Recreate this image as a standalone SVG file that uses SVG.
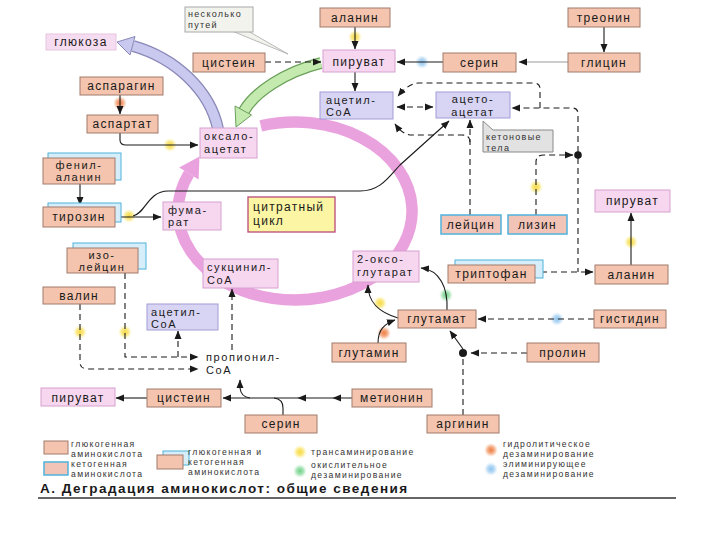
<svg xmlns="http://www.w3.org/2000/svg" width="720" height="540" viewBox="0 0 720 540">
<defs>
<style>
.g{fill:#f4c4ae;stroke:#a07a6c;stroke-width:1}
.p{fill:#f6d7ef;stroke:#d6a0cf;stroke-width:1}
.l{fill:#d8d5f4;stroke:#a29cd6;stroke-width:1}
.k{fill:#f2c4b8;stroke:#4fb2dc;stroke-width:1.5}
.sh{fill:#d6eef9;stroke:#4fb2dc;stroke-width:1}
text{font-family:"Liberation Sans",Arial,sans-serif;fill:#1a1a1a}
.t{font-size:12px;letter-spacing:1.3px}
.t2{font-size:11px;letter-spacing:1.6px}
.c{text-anchor:middle}
.s{font-size:9px;letter-spacing:1.3px;fill:#333}
.lg{font-size:8.6px;letter-spacing:1.35px;fill:#333}
.ln{fill:none;stroke:#1a1a1a;stroke-width:1.1}
.d{stroke-dasharray:6 4}
.ae{marker-end:url(#a)}
</style>
<marker id="a" markerWidth="9" markerHeight="8" refX="8" refY="4" orient="auto" markerUnits="userSpaceOnUse"><path d="M0,0.5 L8.5,4 L0,7.5 Z" fill="#1a1a1a"/></marker>
<marker id="as" markerWidth="9" markerHeight="8" refX="8" refY="4" orient="auto-start-reverse" markerUnits="userSpaceOnUse"><path d="M0,0.5 L8.5,4 L0,7.5 Z" fill="#1a1a1a"/></marker>
<radialGradient id="gy"><stop offset="0" stop-color="#f6d840"/><stop offset="0.5" stop-color="#f8e46a" stop-opacity="0.8"/><stop offset="1" stop-color="#fff3a0" stop-opacity="0"/></radialGradient>
<radialGradient id="gb"><stop offset="0" stop-color="#8cc2ee"/><stop offset="0.5" stop-color="#a8d2f2" stop-opacity="0.8"/><stop offset="1" stop-color="#d0e8fa" stop-opacity="0"/></radialGradient>
<radialGradient id="go"><stop offset="0" stop-color="#ee7a40"/><stop offset="0.5" stop-color="#f29a6a" stop-opacity="0.8"/><stop offset="1" stop-color="#f8c0a0" stop-opacity="0"/></radialGradient>
<radialGradient id="gg"><stop offset="0" stop-color="#6ccf84"/><stop offset="0.5" stop-color="#92dca4" stop-opacity="0.8"/><stop offset="1" stop-color="#c0ecc8" stop-opacity="0"/></radialGradient>
</defs>
<rect width="720" height="540" fill="#ffffff"/>

<g id="cycle">
<path d="M260.8,125.9 A117 89 0 1 1 189,173.4" fill="none" stroke="#e9a2dd" stroke-width="11.5"/>
<polygon points="199.5,156.4 198.6,179.6 179.2,167.5" fill="#e9a2dd"/>
</g>

<g id="bigarrows">
<path d="M218,129 C210,90 175,58 133,46" fill="none" stroke="#8a88b8" stroke-width="12"/>
<path d="M218,129 C210,90 175,58 133,46" fill="none" stroke="#c9c8ee" stroke-width="9.5"/>
<polygon points="117,42 135,36.5 130,55" fill="#c9c8ee" stroke="#8a88b8" stroke-width="1"/>
<path d="M321,63 C285,72 255,92 244,111" fill="none" stroke="#6aa05a" stroke-width="12"/>
<path d="M321,63 C285,72 255,92 244,111" fill="none" stroke="#c5eab0" stroke-width="9.5"/>
<polygon points="236,127 251.5,115 235,106" fill="#c5eab0" stroke="#6aa05a" stroke-width="1"/>
</g>

<g id="marks">
<circle cx="355" cy="37" r="7" fill="url(#gy)"/>
<circle cx="170" cy="145" r="7" fill="url(#gy)"/>
<circle cx="129" cy="216" r="7" fill="url(#gy)"/>
<circle cx="536" cy="187" r="7" fill="url(#gy)"/>
<circle cx="631" cy="242" r="7" fill="url(#gy)"/>
<circle cx="80" cy="332" r="7" fill="url(#gy)"/>
<circle cx="125" cy="332" r="7" fill="url(#gy)"/>
<circle cx="380" cy="303" r="7" fill="url(#gy)"/>
<circle cx="422" cy="62" r="7" fill="url(#gb)"/>
<circle cx="557" cy="319" r="7" fill="url(#gb)"/>
<circle cx="120" cy="103" r="7" fill="url(#go)"/>
<circle cx="384" cy="333" r="7" fill="url(#go)"/>
<circle cx="446" cy="295" r="7" fill="url(#gg)"/>
</g>

<g id="connectors">
<path class="ln d ae" d="M265,62 H321"/>
<path class="ln ae" d="M355,27 V49"/>
<path class="ln ae" d="M443,62 H397"/>
<path class="ln ae" d="M568,62 H519" style="stroke:#9a9a9a"/>
<path class="ln ae" d="M604,27 V52"/>
<path class="ln ae" d="M355,72 V91"/>
<path class="ln d" d="M397,107 H433" style="marker-start:url(#as);marker-end:url(#a)"/>
<path class="ln d ae" d="M540,108 V89 Q540,83 534,83 H418 Q408,84 398,96"/>
<path class="ln d ae" d="M578,152 V114 Q578,108 572,108 H512"/>
<path class="ln d ae" d="M470,215 V120"/>
<path class="ln d ae" d="M470,142 Q470,135 462,135 H410 Q402,134 395,124"/>
<path class="ln d ae" d="M536,215 V162 Q536,155 544,155 H573"/>
<path class="ln d" d="M578,158 V272"/>
<path class="ln d ae" d="M541,272 H593"/>
<path class="ln ae" d="M631,265 V213"/>
<path class="ln ae" d="M80,184 V205"/>
<path class="ln ae" d="M116,217 H161"/>
<path class="ln ae" d="M133,216 C145,214 148,191 168,191 H360 C380,191 388,178 400,165 L449,121"/>
<path class="ln ae" d="M120,95 V114"/>
<path class="ln ae" d="M120,133 V140 Q120,145 126,145 H198"/>
<path class="ln d ae" d="M125,273 V357 H198"/>
<path class="ln d ae" d="M178,357 V331"/>
<path class="ln d ae" d="M80,304 V362 Q80,369 88,369 H198"/>
<path class="ln d ae" d="M232,350 V289"/>
<path class="ln ae" d="M352,398 L333,398 L298,398 L223,398" style="marker-mid:url(#a)"/>
<path class="ln" d="M283,415 V408 Q283,399 274,398"/>
<path class="ln ae" d="M250,398 Q241,397 240,388 V380"/>
<path class="ln ae" d="M147,398 H116"/>
<path class="ln ae" d="M447,310 C448,288 440,270 421,268"/>
<path class="ln ae" d="M398,318 C378,312 368,302 368,285"/>
<path class="ln ae" d="M378,343 C378,330 384,324 395,320"/>
<path class="ln d ae" d="M594,319 H478"/>
<path class="ln d ae" d="M527,353 H471"/>
<path class="ln d" d="M463,415 V356"/>
<path class="ln ae" d="M463,349 L450,331"/>
<circle cx="578" cy="155" r="3.8" fill="#1a1a1a"/>
<circle cx="463" cy="353" r="4" fill="#1a1a1a"/>
</g>

<g id="n-neskolko">
<polygon points="232,31 248,31 288,54" fill="#f3f3ee" stroke="#a8a8a8" stroke-width="0.8"/>
<rect x="185" y="7" width="68" height="25" fill="#f3f3ee" stroke="#a8a8a8"/>
<text class="s" x="188" y="17">несколько</text>
<text class="s" x="188" y="28">путей</text>
</g>
<g id="n-glukoza"><rect x="46" y="34" width="70" height="16" fill="#f6dcf0" stroke="#e8c4e2"/><text class="t c" x="81" y="46">глюкоза</text></g>
<g id="n-alanin1"><rect class="g" x="320" y="8" width="70" height="19"/><text class="t c" x="355" y="21.5">аланин</text></g>
<g id="n-cistein1"><rect class="g" x="193" y="53" width="72" height="19"/><text class="t c" x="229" y="66.5">цистеин</text></g>
<g id="n-piruvat1"><rect class="p" x="323" y="50" width="72" height="22"/><text class="t c" x="359" y="65.5">пируват</text></g>
<g id="n-serin1"><rect class="g" x="443" y="53" width="73" height="19"/><text class="t c" x="479.5" y="66.5">серин</text></g>
<g id="n-treonin"><rect class="g" x="568" y="8" width="72" height="19"/><text class="t c" x="604" y="21.5">треонин</text></g>
<g id="n-glicin"><rect class="g" x="568" y="53" width="72" height="19"/><text class="t c" x="604" y="66.5">глицин</text></g>
<g id="n-acetylcoa1"><rect class="l" x="320" y="92" width="73" height="27"/><text class="t2" x="326" y="103.5">ацетил-</text><text class="t2" x="326" y="116">CoA</text></g>
<g id="n-acetoacetat"><rect class="l" x="436" y="92" width="74" height="26"/><text class="t2 c" x="473" y="103">ацето-</text><text class="t2 c" x="473" y="115.5">ацетат</text></g>
<g id="n-ketonovye">
<polygon points="483,121 493,130 553,130 553,152 483,152" fill="#e2e2e2" stroke="#8a8a8a"/>
<text class="s" x="486" y="140">кетоновые</text>
<text class="s" x="486" y="150.5">тела</text>
</g>
<g id="n-asparagin"><rect class="g" x="80" y="77" width="83" height="18"/><text class="t c" x="121.5" y="90">аспарагин</text></g>
<g id="n-aspartat"><rect class="g" x="87" y="115" width="71" height="18"/><text class="t c" x="122.5" y="128">аспартат</text></g>
<g id="n-oksaloacetat"><rect class="p" x="200" y="128" width="57" height="30"/><text class="t2" x="204" y="140">оксало-</text><text class="t2" x="204" y="153">ацетат</text></g>
<g id="n-fenilalanin"><rect class="sh" x="48" y="153" width="73" height="27"/><rect class="g" x="43" y="158" width="72" height="26"/><text class="t2 c" x="79" y="168.5">фенил-</text><text class="t2 c" x="79" y="181">аланин</text></g>
<g id="n-tirozin"><rect class="sh" x="48" y="203" width="73" height="19"/><rect class="g" x="43" y="207" width="72" height="20"/><text class="t c" x="79" y="221">тирозин</text></g>
<g id="n-fumarat"><rect class="p" x="163" y="202" width="58" height="28"/><text class="t2" x="168" y="213.5">фума-</text><text class="t2" x="168" y="226">рат</text></g>
<g id="n-citrate"><rect x="248" y="197" width="87" height="35" fill="#fbf5a4" stroke="#b84a78" stroke-width="1.3"/><text class="t" x="253" y="211">цитратный</text><text class="t" x="253" y="225">цикл</text></g>
<g id="n-izoleicin"><rect class="sh" x="73" y="243" width="73" height="26"/><rect class="g" x="67" y="248" width="71" height="25"/><text class="t2 c" x="102" y="258.5">изо-</text><text class="t2 c" x="102" y="271">лейцин</text></g>
<g id="n-valin"><rect class="g" x="43" y="287" width="72" height="17"/><text class="t c" x="79" y="299.5">валин</text></g>
<g id="n-sukcinil"><rect class="p" x="203" y="259" width="75" height="29"/><text class="t2" x="207" y="271">сукцинил-</text><text class="t2" x="207" y="284">CoA</text></g>
<g id="n-acetylcoa2"><rect class="l" x="147" y="304" width="71" height="26"/><text class="t2" x="151" y="315.5">ацетил-</text><text class="t2" x="151" y="328">CoA</text></g>
<g id="n-propionil"><text class="t2" x="206" y="361">пропионил-</text><text class="t2" x="206" y="374">CoA</text></g>
<g id="n-piruvat2"><rect class="p" x="41" y="388" width="74" height="18"/><text class="t c" x="78" y="401.5">пируват</text></g>
<g id="n-cistein2"><rect class="g" x="147" y="389" width="74" height="18"/><text class="t c" x="184" y="402">цистеин</text></g>
<g id="n-serin2"><rect class="g" x="245" y="415" width="72" height="18"/><text class="t c" x="281" y="428">серин</text></g>
<g id="n-metionin"><rect class="g" x="352" y="389" width="80" height="18"/><text class="t c" x="392" y="402">метионин</text></g>
<g id="n-arginin"><rect class="g" x="427" y="415" width="72" height="18"/><text class="t c" x="463" y="428">аргинин</text></g>
<g id="n-glutamat"><rect class="g" x="398" y="310" width="78" height="18"/><text class="t c" x="437" y="323">глутамат</text></g>
<g id="n-glutamin"><rect class="g" x="332" y="343" width="74" height="19"/><text class="t c" x="369" y="356.5">глутамин</text></g>
<g id="n-prolin"><rect class="g" x="527" y="343" width="72" height="19"/><text class="t c" x="563" y="356.5">пролин</text></g>
<g id="n-gistidin"><rect class="g" x="594" y="310" width="72" height="18"/><text class="t c" x="630" y="323">гистидин</text></g>
<g id="n-oksoglutarat"><rect class="p" x="353" y="251" width="66" height="31"/><text class="t2" x="357" y="263">2-оксо-</text><text class="t2" x="357" y="276">глутарат</text></g>
<g id="n-triptofan"><rect class="sh" x="455" y="260" width="88" height="18"/><rect class="g" x="448" y="265" width="87" height="18"/><text class="t c" x="491.5" y="278">триптофан</text></g>
<g id="n-leicin"><rect class="k" x="441" y="215" width="60" height="19"/><text class="t c" x="471" y="228.5">лейцин</text></g>
<g id="n-lizin"><rect class="k" x="508" y="215" width="59" height="19"/><text class="t c" x="537.5" y="228.5">лизин</text></g>
<g id="n-piruvat3"><rect class="p" x="595" y="190" width="75" height="22"/><text class="t c" x="632.5" y="205">пируват</text></g>
<g id="n-alanin2"><rect class="g" x="595" y="265" width="73" height="19"/><text class="t c" x="631.5" y="278.5">аланин</text></g>

<g id="legend">
<rect class="g" x="44" y="441" width="24" height="13"/>
<text class="lg" x="71" y="447">глюкогенная</text>
<text class="lg" x="71" y="457">аминокислота</text>
<rect class="k" x="44" y="462" width="24" height="13"/>
<text class="lg" x="71" y="467">кетогенная</text>
<text class="lg" x="71" y="477">аминокислота</text>
<rect class="sh" x="163" y="451" width="26" height="14"/>
<rect class="g" x="157" y="455" width="26" height="14"/>
<text class="lg" x="188" y="455">глюкогенная и</text>
<text class="lg" x="188" y="465">кетогенная</text>
<text class="lg" x="188" y="475">аминокислота</text>
<circle cx="300" cy="452" r="7" fill="url(#gy)"/>
<text class="lg" x="311" y="455">трансаминирование</text>
<circle cx="300" cy="471" r="7" fill="url(#gg)"/>
<text class="lg" x="311" y="468">окислительное</text>
<text class="lg" x="311" y="478">дезаминирование</text>
<circle cx="491" cy="450" r="7" fill="url(#go)"/>
<text class="lg" x="503" y="447">гидролитическое</text>
<text class="lg" x="503" y="457">дезаминирование</text>
<circle cx="491" cy="469" r="7" fill="url(#gb)"/>
<text class="lg" x="503" y="467">элиминирующее</text>
<text class="lg" x="503" y="477">дезаминирование</text>
<text x="40" y="493" style="font-size:13.5px;font-weight:bold;letter-spacing:1.5px">А. Деградация аминокислот: общие сведения</text>
<line x1="38" y1="498" x2="676" y2="498" stroke="#333" stroke-width="1.5"/>
</g>
</svg>
